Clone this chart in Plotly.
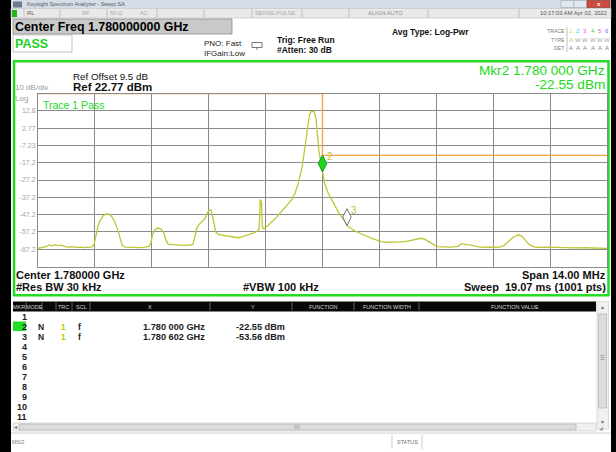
import plotly.graph_objects as go

W, H = 616, 452
FONT = "Liberation Sans, Arial, sans-serif"

# ---- analyzer settings -------------------------------------------------
center_mhz = 1780.0
span_mhz = 14.0
ref_dbm = 22.77
db_per_div = 10.0
n_div = 10

# ---- trace 1: offset from center (MHz) and level (dBm) -----------------
trace_offset_mhz = [
    -7.00, -6.90, -6.80, -6.73, -6.66, -6.58, -6.51, -6.43, -6.36, -6.26,
    -6.16, -6.07, -5.97, -5.87, -5.77, -5.67, -5.62, -5.57, -5.52, -5.47,
    -5.40, -5.33, -5.25, -5.18, -5.11, -5.03, -4.98, -4.93, -4.86, -4.74,
    -4.61, -4.49, -4.37, -4.27, -4.22, -4.18, -4.12, -4.05, -3.97, -3.90,
    -3.85, -3.80, -3.70, -3.60, -3.51, -3.38, -3.26, -3.19, -3.14, -3.09,
    -3.04, -2.96, -2.89, -2.84, -2.79, -2.74, -2.71, -2.67, -2.62, -2.55,
    -2.45, -2.33, -2.20, -2.08, -1.96, -1.83, -1.71, -1.61, -1.56, -1.53,
    -1.50, -1.48, -1.44, -1.34, -1.24, -1.14, -1.05, -0.95, -0.85, -0.75,
    -0.68, -0.60, -0.55, -0.50, -0.46, -0.41, -0.36, -0.32, -0.28, -0.23,
    -0.20, -0.16, -0.12, -0.09, -0.05, 0.00, 0.05, 0.14, 0.26, 0.38,
    0.55, 0.602, 0.71, 0.82, 0.95, 1.07, 1.20, 1.32, 1.45, 1.61,
    1.78, 1.93, 2.10, 2.23, 2.35, 2.42, 2.51, 2.60, 2.68, 2.77,
    2.84, 3.01, 3.17, 3.33, 3.43, 3.53, 3.63, 3.75, 3.88, 4.12,
    4.37, 4.47, 4.54, 4.61, 4.69, 4.76, 4.83, 4.91, 4.98, 5.06,
    5.13, 5.25, 5.47, 5.72, 5.97, 6.21, 6.46, 6.70, 7.00,
]
trace_dbm = [
    -66.7, -66.3, -65.8, -64.8, -65.3, -64.6, -65.2, -64.9, -65.6, -66.0,
    -65.8, -66.2, -66.0, -66.3, -66.1, -65.9, -64.5, -58.5, -53.5, -50.5,
    -48.0, -46.8, -47.0, -48.5, -51.5, -56.5, -61.5, -65.0, -66.0, -66.2,
    -66.0, -66.3, -66.0, -65.6, -63.5, -58.5, -56.0, -55.0, -55.6, -58.0,
    -62.0, -64.3, -64.6, -64.8, -64.7, -65.0, -64.8, -64.5, -60.0, -55.0,
    -53.0, -51.0, -49.5, -46.5, -44.8, -44.7, -48.0, -53.5, -57.5, -58.8,
    -59.2, -59.8, -60.2, -60.6, -60.0, -59.0, -58.0, -56.8, -55.5, -38.5,
    -40.0, -54.5, -55.5, -53.5, -51.5, -49.0, -46.5, -44.0, -41.5, -38.5,
    -35.0, -29.5, -24.5, -19.5, -13.0, -5.0, 4.0, 10.5, 12.3, 12.5,
    12.0, 8.3, -2.0, -10.5, -15.5, -22.55, -29.0, -34.8, -40.6, -45.4,
    -51.2, -53.56, -55.4, -57.0, -58.3, -59.6, -60.8, -61.8, -62.8, -63.2,
    -63.3, -63.0, -62.6, -61.9, -61.4, -60.9, -61.4, -62.8, -64.1, -65.0,
    -65.7, -65.9, -66.0, -65.6, -64.0, -64.6, -64.7, -65.5, -66.0, -66.1,
    -66.0, -65.0, -63.7, -62.0, -60.3, -59.6, -58.9, -59.8, -62.0, -64.0,
    -65.2, -66.2, -66.0, -66.3, -66.2, -66.5, -66.4, -66.6, -66.8,
]

# ---- limit line -----------------------------------------------------------
limit_mhz = [1773.0, 1780.0, 1780.0, 1787.0]
limit_dbm = [22.77, 22.77, -13.0, -13.0]

# ---- markers ------------------------------------------------------------
marker_num = ["2", "3"]
marker_mhz = [1780.000, 1780.602]
marker_dbm = [-22.55, -53.56]
marker_x_text = ["1.780 000 GHz", "1.780 602 GHz"]
marker_y_text = ["-22.55 dBm", "-53.56 dBm"]
marker_fill = ["#1ed81e", "#ffffff"]
marker_edge = ["#149014", "#707070"]

# ---- y tick labels ------------------------------------------------------
ytick_vals = [12.77, 2.77, -7.23, -17.23, -27.23, -37.23, -47.23, -57.23, -67.23]
ytick_text = ["12.8", "2.77", "-7.23", "-17.2", "-27.2", "-37.2", "-47.2", "-57.2", "-67.2"]

# trace/type/det legend
trace_ids = ["1", "2", "3", "4", "5", "6"]
trace_id_colors = ["#e2e200", "#35c8f0", "#e848e8", "#40c840", "#f06090", "#6a6aff"]
trace_types = ["A", "W", "W", "W", "W", "W"]
trace_dets = ["A", "A", "A", "A", "A", "A"]

# ---- geometry of the graticule (pixels) -----------------------------------
GX0, GX1 = 38.0, 607.0
GY0, GY1 = 93.5, 266.5

y_bottom = ref_dbm - n_div * db_per_div
freq_mhz = [center_mhz + o for o in trace_offset_mhz]
px_per_db = (GY1 - GY0) / (ref_dbm - y_bottom)

MK_SIZE = 12
tip_db = 0.7 * MK_SIZE / px_per_db  # diamond tip sits on the marker value


def px(x):
    return x / W


def py(y):
    return 1 - y / H


shapes = []
annots = []


def box(x0, y0, x1, y1, fill=None, line=None, lw=1.0):
    shapes.append(dict(
        type="rect", xref="paper", yref="paper",
        x0=px(x0), x1=px(x1), y0=py(y1), y1=py(y0),
        fillcolor=fill if fill else "rgba(0,0,0,0)",
        line=dict(color=line if line else "rgba(0,0,0,0)", width=lw if line else 0),
        layer="below"))


def seg(x0, y0, x1, y1, color, lw=1.0):
    shapes.append(dict(
        type="line", xref="paper", yref="paper",
        x0=px(x0), x1=px(x1), y0=py(y0), y1=py(y1),
        line=dict(color=color, width=lw), layer="below"))


def label(x, y, s, size=9, color="#000000", bold=False, anchor="left"):
    annots.append(dict(
        xref="paper", yref="paper", x=px(x), y=py(y),
        text=f"<b>{s}</b>" if bold else s, showarrow=False,
        xanchor=anchor, yanchor="middle", borderpad=0, borderwidth=0,
        font=dict(size=size, color=color, family=FONT)))


# ---- window chrome -------------------------------------------------------
box(0, 0, 11, H, fill="#000000")
box(611, 0, W, H, fill="#000000")
box(11, 0, 611, 8.5, fill="#d6dde7")
box(13, 1.5, 22, 7.5, fill="#6c7c8e")
label(27, 4.4, "Keysight Spectrum Analyzer - Swept SA", 5.5, "#505a66")
box(561, 0.5, 574, 7.5, fill="#e2e8ef", line="#9aa6b4", lw=0.6)
box(574, 0.5, 587, 7.5, fill="#e2e8ef", line="#9aa6b4", lw=0.6)
box(587, 0.5, 610, 7.5, fill="#cc4a3e", line="#8a2a22", lw=0.6)
label(598.5, 4.2, "x", 6, "#ffffff", True, "center")

# status row
box(11, 8.5, 611, 18, fill="#e9e9e9", line="#bdbdbd", lw=0.6)
for sx in [24, 60, 107, 157, 204, 252, 302, 349, 428, 519]:
    seg(sx, 9, sx, 17.5, "#b4b4b4", 0.8)
box(12, 10, 17, 17, fill="#1eb41e")
label(27, 13.4, "RL", 5.8, "#606060")
label(82, 13.4, "RF", 5.8, "#a8a8a8")
label(110, 13.4, "50 Ω", 5.8, "#a8a8a8")
label(140, 13.4, "AC", 5.8, "#a8a8a8")
label(255, 13.4, "SENSE:PULSE", 5.8, "#a8a8a8")
label(368, 13.4, "ALIGN AUTO", 5.8, "#909090")
label(607, 13.4, "10:17:03 AM Apr 02, 2022", 5.8, "#555555", anchor="right")

# settings header
box(13, 19, 232, 34, fill="#c9c9c9", line="#8c8c8c", lw=0.8)
label(15, 26.6, "Center Freq 1.780000000 GHz", 12.4, "#000000", True)
box(13, 35, 72, 52, fill="#ffffff", line="#b4b4b4", lw=0.8)
label(15, 43.6, "PASS", 12.5, "#1ed21e", True)
label(204, 43.5, "PNO: Fast", 8, "#222222")
label(204, 53, "IFGain:Low", 8, "#222222")
box(252, 42.5, 262, 47.5, line="#555555", lw=0.8)
seg(257, 47.5, 257, 50, "#555555", 0.8)
label(277, 40.5, "Trig: Free Run", 8.5, "#111111", True)
label(277, 50.5, "#Atten: 30 dB", 8.5, "#111111", True)
label(392, 32, "Avg Type: Log-Pwr", 8.5, "#111111", True)

label(565, 31, "TRACE", 5.2, "#7a7a7a", anchor="right")
label(565, 40, "TYPE", 5.2, "#7a7a7a", anchor="right")
label(565, 48.5, "DET", 5.2, "#7a7a7a", anchor="right")
seg(567, 27, 567, 52, "#b0b0b0", 0.8)
for i, tid in enumerate(trace_ids):
    tx = 571 + 7.2 * i
    label(tx, 31, tid, 6, trace_id_colors[i], anchor="center")
    label(tx, 40, trace_types[i], 6, "#c8c870" if i == 0 else "#a8a8a8", anchor="center")
    label(tx, 48.5, trace_dets[i], 6, "#888888", anchor="center")

# ---- graph frame and annotations --------------------------------------
box(14, 61.3, 608.5, 295.3, line="#22dd22", lw=2.5)
label(605, 70.5, f"Mkr{marker_num[0]} {marker_x_text[0]}", 13.6, "#22d822", anchor="right")
label(605, 84.5, marker_y_text[0], 13.6, "#22d822", anchor="right")
label(73, 76, "Ref Offset 9.5 dB", 9.8, "#111111")
label(73, 87.3, f"Ref {ref_dbm:.2f} dBm", 11.5, "#111111", True)
label(15, 88, "10 dB/div", 8, "#9a9a9a")
label(15, 98, "Log", 8, "#9a9a9a")
label(43, 105, "Trace 1 Pass", 10.5, "#22d822")
label(16, 274.5, f"Center {center_mhz / 1000:.6f} GHz", 11, "#111111", True)
label(16, 287, "#Res BW 30 kHz", 11, "#111111", True)
label(243, 287, "#VBW 100 kHz", 11, "#111111", True)
label(606, 274.5, f"Span {span_mhz:.2f} MHz", 11, "#111111", True, "right")
label(606, 287, "Sweep  19.07 ms (1001 pts)", 11, "#111111", True, "right")

# ---- marker table ------------------------------------------------------
box(13, 301.5, 596, 311.5, fill="#080808")
for sx in [26, 42, 56, 72, 90, 210, 292, 354, 419]:
    seg(sx, 302.5, sx, 310.5, "#7a7a7a", 0.8)
for hx, ht in [(19.5, "MKR"), (34, "MODE"), (63, "TRC"), (81, "SCL"), (150, "X"),
               (253, "Y"), (323, "FUNCTION"), (387, "FUNCTION WIDTH"), (515, "FUNCTION VALUE")]:
    label(hx, 306.6, ht, 5.5, "#d4d4d4", anchor="center")

row_y = [316.5 + 10.0 * i for i in range(11)]
box(13, 321.5, 26, 331, fill="#22dd22")
for i in range(11):
    label(26.5, row_y[i], str(i + 1), 9, "#222222", True, "right")
for k, num in enumerate(marker_num):
    ry = row_y[int(num) - 1]
    label(41, ry, "N", 8.5, "#222222", True, "center")
    label(63, ry, "1", 8.5, "#c8c800", True, "center")
    label(80, ry, "f", 8.5, "#222222", True, "center")
    label(143, ry, marker_x_text[k], 9.2, "#222222", True)
    label(236, ry, marker_y_text[k], 9.2, "#222222", True)

# scrollbars
box(597, 301.5, 608.5, 429, fill="#f0f0f0", line="#c8c8c8", lw=0.6)
box(598.5, 314, 606.5, 408, fill="#dcdcdc", line="#a8a8a8", lw=0.6)
for gy in [355.5, 357.5, 359.5]:
    seg(600.5, gy, 604.5, gy, "#8a8a8a", 0.6)
label(602.5, 306.5, "▴", 6, "#707070", anchor="center")
label(602.5, 422, "▾", 6, "#707070", anchor="center")
box(13, 423, 596, 431, fill="#f0f0f0", line="#c8c8c8", lw=0.6)
box(19, 424, 576, 430, fill="#dcdcdc", line="#a8a8a8", lw=0.6)
for gx in [295, 297, 299]:
    seg(gx, 425, gx, 429, "#8a8a8a", 0.6)
label(15.5, 427, "◂", 6, "#707070", anchor="center")
label(601, 428, "◢", 4.5, "#9a9a9a", anchor="center")

# message bar
seg(11, 433, 611, 433, "#c4c4c4", 0.8)
label(12, 442, "MSG", 5.5, "#808080")
seg(392, 435, 392, 449, "#c0c0c0", 0.8)
seg(422, 435, 422, 449, "#c0c0c0", 0.8)
label(407, 442, "STATUS", 5.5, "#707070", anchor="center")

# ---- spectrum ------------------------------------------------------------
fig = go.Figure()
fig.add_trace(go.Scatter(
    x=limit_mhz, y=limit_dbm, mode="lines",
    line=dict(color="#f2a63a", width=1.3), hoverinfo="skip", showlegend=False))
fig.add_trace(go.Scatter(
    x=freq_mhz, y=trace_dbm, mode="lines",
    line=dict(color="#bec634", width=1.3), hoverinfo="skip", showlegend=False))
fig.add_trace(go.Scatter(
    x=marker_mhz, y=[v + tip_db for v in marker_dbm], mode="markers",
    marker=dict(symbol="diamond-tall", size=MK_SIZE, color=marker_fill,
                line=dict(color=marker_edge, width=1)),
    cliponaxis=False, hoverinfo="skip", showlegend=False))
for k, num in enumerate(marker_num):
    annots.append(dict(
        xref="x", yref="y", x=marker_mhz[k], y=marker_dbm[k], text=num,
        showarrow=False, xshift=7, yshift=15.5, borderpad=0,
        font=dict(size=10, color="#c2bf3c", family=FONT)))

grid_col = "#8a8a8a"
fig.update_layout(
    width=W, height=H, autosize=False,
    margin=dict(l=0, r=0, t=0, b=0),
    paper_bgcolor="#ffffff", plot_bgcolor="#ffffff",
    shapes=shapes, annotations=annots, showlegend=False,
    xaxis=dict(
        domain=[px(GX0), px(GX1)],
        range=[center_mhz - span_mhz / 2, center_mhz + span_mhz / 2],
        tick0=center_mhz - span_mhz / 2, dtick=span_mhz / n_div,
        showgrid=True, gridcolor=grid_col, gridwidth=1,
        showticklabels=False, ticks="", zeroline=False,
        showline=True, linecolor=grid_col, linewidth=1, mirror=True,
        fixedrange=True),
    yaxis=dict(
        domain=[py(GY1), py(GY0)],
        range=[y_bottom, ref_dbm],
        tickmode="array", tickvals=ytick_vals, ticktext=ytick_text,
        showgrid=True, gridcolor=grid_col, gridwidth=1,
        ticks="", zeroline=False,
        tickfont=dict(size=7, color="#a4a4a4", family=FONT),
        showline=True, linecolor=grid_col, linewidth=1, mirror=True,
        fixedrange=True),
)

fig.write_html("out.html", config={"displayModeBar": False})
